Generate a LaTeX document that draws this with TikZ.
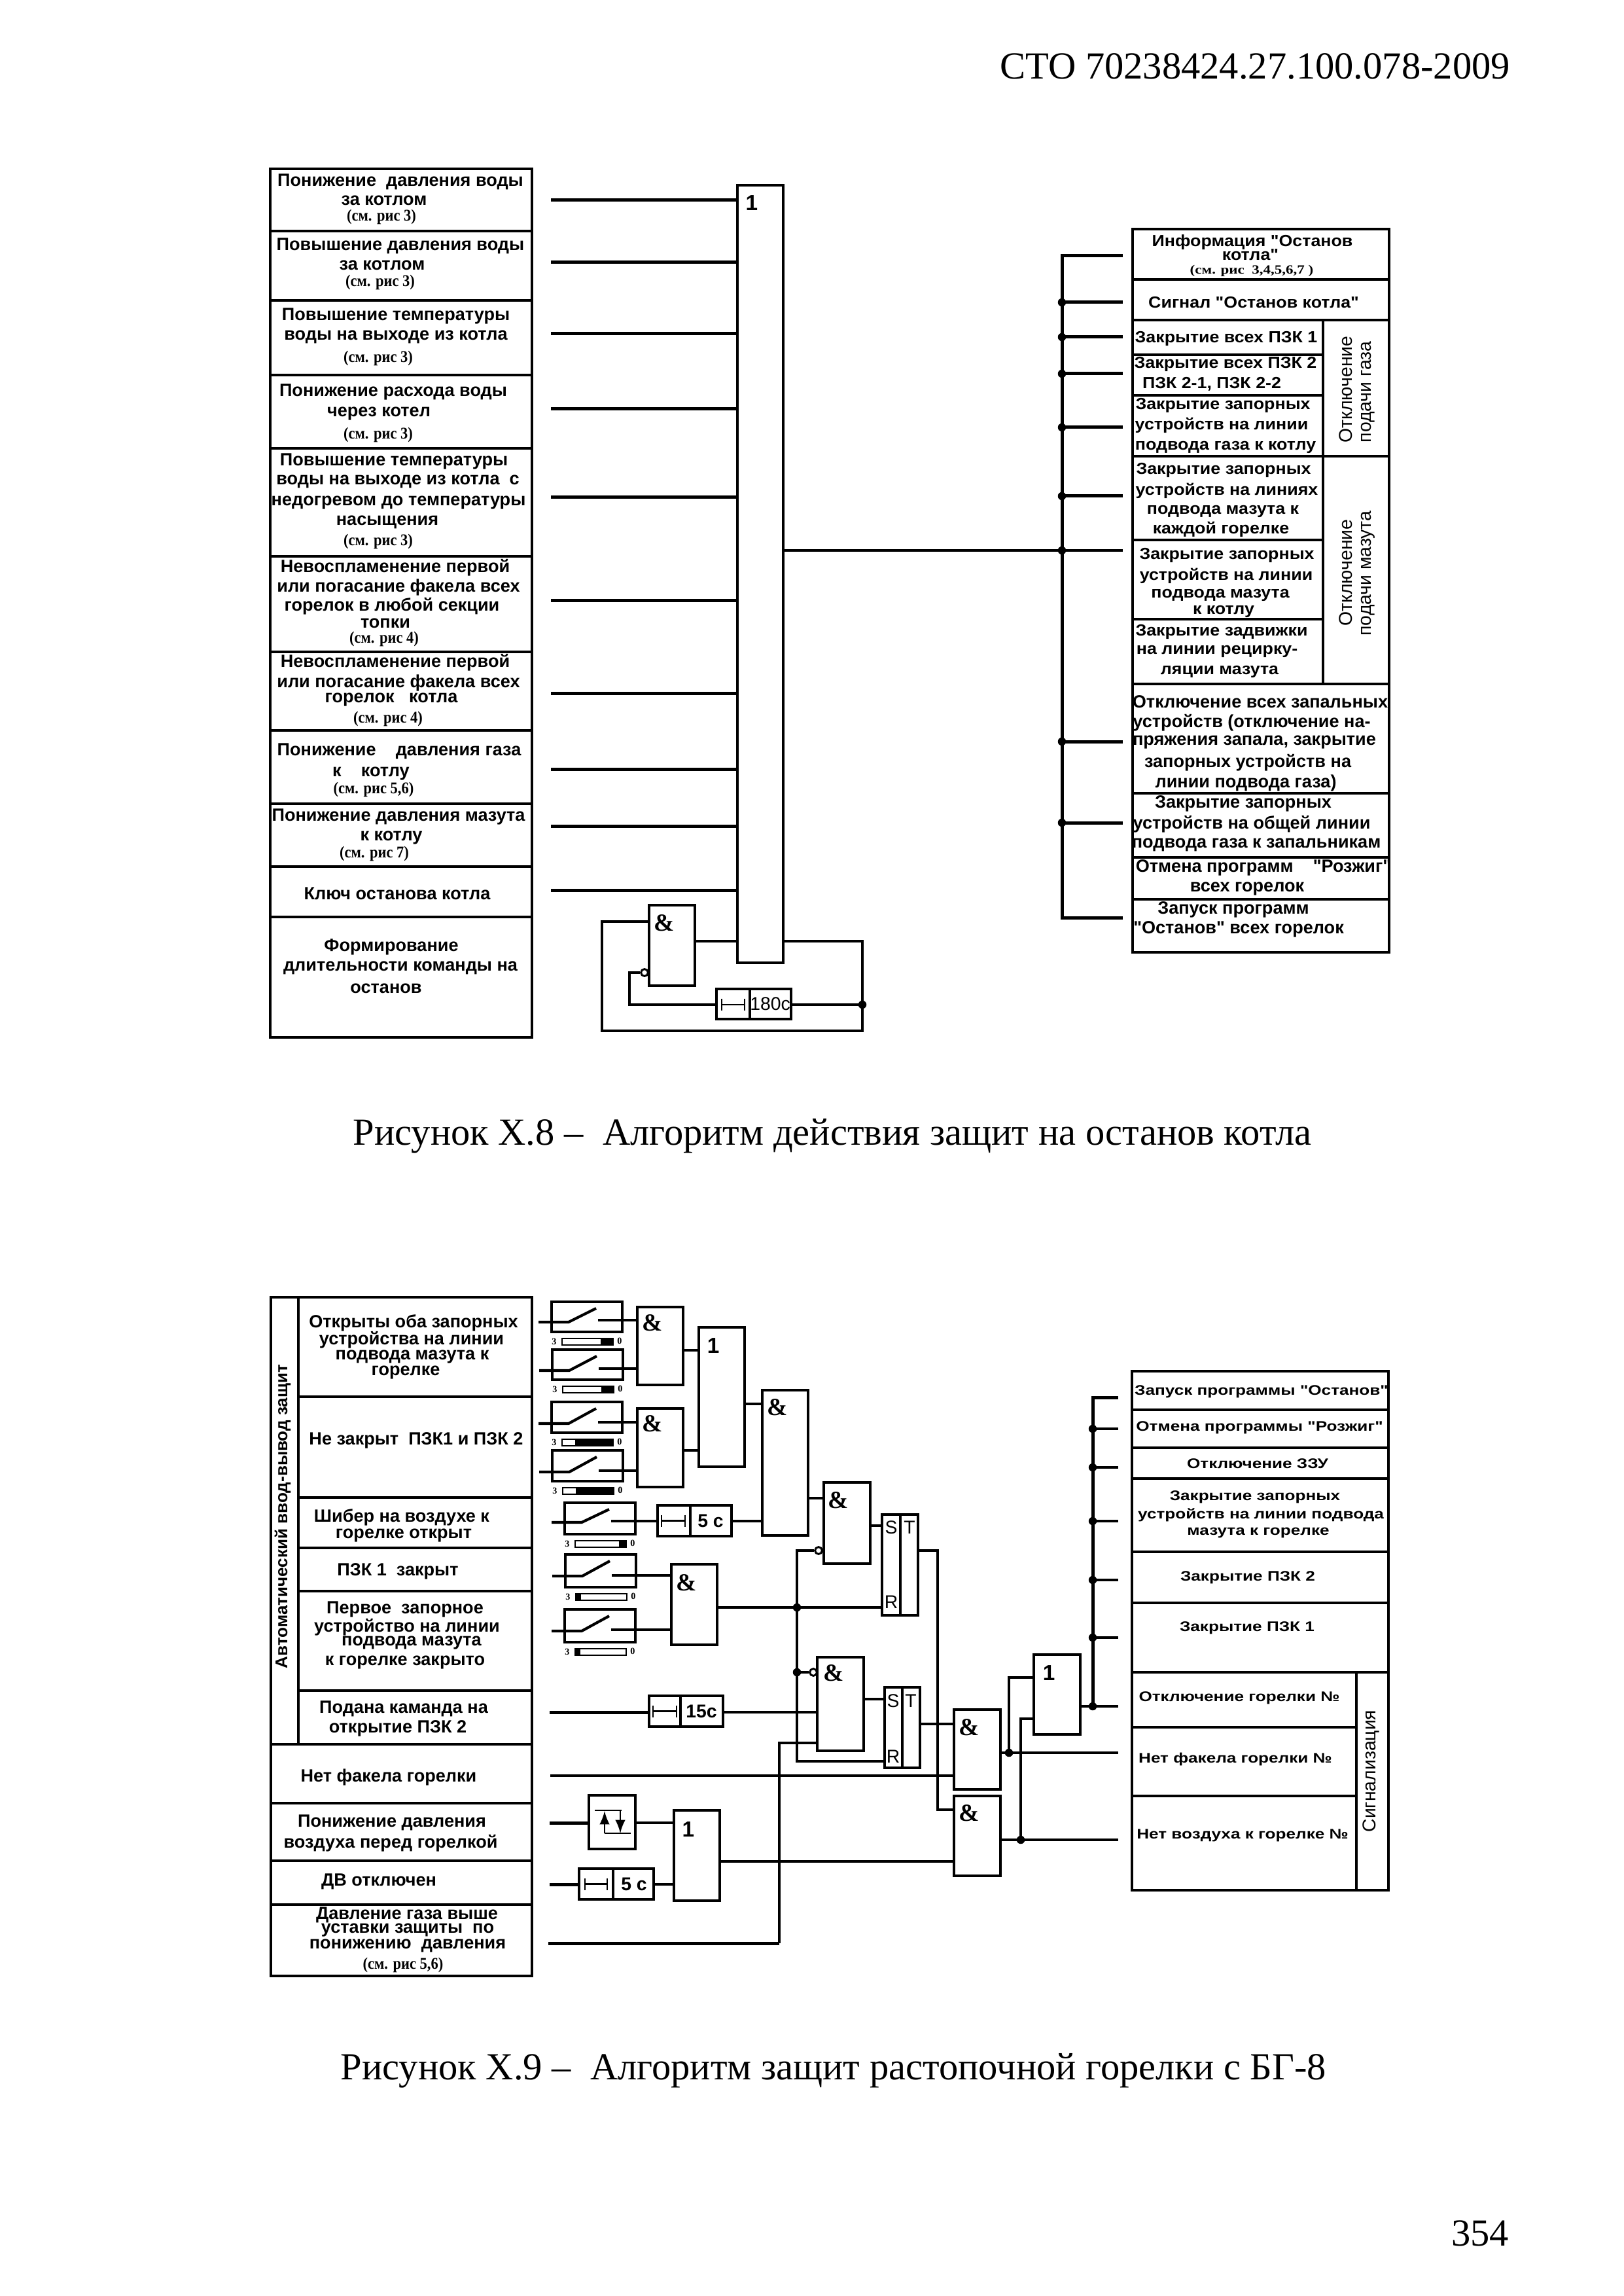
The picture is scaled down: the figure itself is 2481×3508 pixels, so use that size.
\documentclass[tikz,border=0pt]{standalone}
\usepackage{fontspec}
\setmainfont{Liberation Serif}
\newfontfamily\lblfont{Liberation Sans}
\newfontfamily\widefont[FakeStretch=1.09]{Liberation Sans}
\newfontfamily\xwidefont[FakeStretch=1.23]{Liberation Sans}
\newfontfamily\notefont[FakeStretch=0.9]{Liberation Serif}
\newfontfamily\wnotefont[FakeStretch=1.2]{Liberation Serif}
\usetikzlibrary{fit}
\newcommand{\andsym}{{\rmfamily\bfseries\fontsize{9}{9}\selectfont\&}}
\tikzset{
  wire/.style={line width=0.85pt},
  fatwire/.style={line width=1.2pt},
  gridline/.style={line width=0.8pt},
  gate/.style={draw,line width=1pt,inner sep=0pt,fill=white},
  swbox/.style={draw,line width=0.85pt,inner sep=0pt},
  bubble/.style={draw,circle,fill=white,line width=0.7pt,inner sep=0pt,minimum size=2.6pt},
  dot/.style={circle,fill=black,inner sep=0pt,minimum size=3pt},
  txt/.style={inner sep=0pt,font=\lblfont\bfseries\fontsize{6.5}{8}\selectfont},
  wtxt/.style={inner sep=0pt,font=\widefont\bfseries\fontsize{5.9}{7}\selectfont},
  xtxt/.style={inner sep=0pt,font=\xwidefont\bfseries\fontsize{5.1}{6}\selectfont},
  note/.style={inner sep=0pt,font=\notefont\bfseries\fontsize{6}{6}\selectfont},
  vtxt/.style={inner sep=0pt,rotate=90,font=\lblfont\fontsize{6.8}{8}\selectfont},
  gatelbl/.style={inner sep=0pt,font=\lblfont\bfseries\fontsize{8}{9}\selectfont},
  trlbl/.style={inner sep=0pt,font=\lblfont\fontsize{6.8}{8}\selectfont},
  tinylbl/.style={inner sep=0pt,font=\bfseries\fontsize{3.4}{4}\selectfont},
  pagetxt/.style={inner sep=0pt,font=\fontsize{14.05}{16}\selectfont}
}
\begin{document}
\begin{tikzpicture}[x=0.24pt,y=-0.24pt]
  \useasboundingbox (0,0) rectangle (2481,3508);
  %page texts
  \node[pagetxt] (header) at (1918,101) {СТО 70238424.27.100.078-2009};
  \node[pagetxt] (capA) at (1272,1736) {Рисунок Х.8 –\ \ Алгоритм действия защит на останов котла};
  \node[pagetxt] (capB) at (1274,3164) {Рисунок Х.9 –\ \ Алгоритм защит растопочной горелки с БГ-8};
  \node[pagetxt] (pageno) at (2262,3412) {354};

  %figure 8: left table
  \draw[gridline] (413,258) rectangle (813,1585);
  \foreach \y in {353,459,573,685,850,996,1116,1228,1324,1401}
      \draw[gridline] (413,\y) -- (813,\y);
  \foreach \x/\y/\tx [count=\i] in {
      612/278/Понижение~~давления воды, 587/306/за котлом,
      612/376/Повышение давления воды, 584/405/за котлом,
      605/483/Повышение температуры, 605/515/воды на выходе из котла,
      601/599/Понижение расхода воды, 579/632/через котел,
      602/705/Повышение температуры, 608/736/воды на выходе из котла~~с,
      609/768/недогревом до температуры, 592/798/насыщения,
      604/867/Невоспламенение первой, 609/897/или погасание факела всех,
      599/926/горелок в любой секции, 589/952/топки,
      604/1012/Невоспламенение первой, 609/1043/или погасание факела всех,
      598/1069/горелок~~~котла,
      610/1148/Понижение~~~~давления газа, 567/1182/к~~~~котлу,
      609/1248/Понижение давления мазута, 598/1280/к котлу,
      607/1365/Ключ останова котла,
      598/1447/Формирование, 612/1479/длительности команды на, 590/1510/останов}
      \node[txt] (lA\i) at (\x,\y) {\tx};
  \foreach \x/\y/\tx [count=\i] in {
      583/331/3, 581/431/3, 578/547/3, 578/664/3, 578/827/3,
      587/976/4, 593/1098/4, 571/1206/{5,6}, 572/1304/7}
      \node[note] (nA\i) at (\x,\y) {(см. рис \tx)};

  %figure 8: big OR gate and its inputs
  \node[gate,fit={(1127,283)(1197,1471)}] (orBig) {};
  \node[gatelbl] (orBigl) at (1149,310) {1};
  \foreach \y in {306,401,510,625,760,918,1059,1175,1262,1360}{
      \coordinate (in\y) at (842,\y);
      \draw[fatwire] (in\y) -- (in\y -| orBig.west);
  }

  %figure 8: feedback loop
  \node[gate,fit={(992,1383)(1062,1506)}] (andLoop) {};
  \node[gatelbl] (andLoopl) at (1015,1410) {\andsym};
  \node[gate,fit={(1095,1511)(1209,1557)}] (tmLoop) {};
  \draw[wire] (1146,1511) -- (1146,1557);
  \draw[line width=0.6pt] (1103,1526) -- (1103,1544) (1103,1535) -- (1138,1535) (1138,1526) -- (1138,1544);
  \node[trlbl] (tmLoopl) at (1177,1534) {180с};
  \node[bubble] (bubLoop) at (985,1486) {};
  \coordinate (loopA) at (1318,1438);
  \coordinate (loopB) at (1318,1575);
  \coordinate (loopC) at (920,1575);
  \coordinate (loopD) at (920,1408);
  \coordinate (loopE) at (962,1486);
  \coordinate (loopF) at (1318,1535);
  \draw[wire] (andLoop.east |- loopA) -- (orBig.west |- loopA);
  \draw[wire] (orBig.east |- loopA) -- (loopA) -- (loopB) -- (loopC) -- (loopD) -- (andLoop.west |- loopD);
  \draw[wire] (tmLoop.east |- loopF) -- (loopF);
  \draw[wire] (bubLoop.west) -- (loopE) -- (loopE |- loopF) -- (tmLoop.west |- loopF);
  \node[dot] (dotLoop) at (loopF) {};

  %figure 8: output bus
  \coordinate (busAt) at (1623,391);
  \coordinate (busAb) at (1623,1402);
  \coordinate (outAt) at (1716,391);
  \coordinate (outAb) at (1716,1402);
  \draw[fatwire] (outAt) -- (busAt) -- (busAb) -- (outAb);
  \foreach \y in {462,515,571,653,758,1133,1257}{
      \coordinate (busA\y) at (1623,\y);
      \coordinate (outA\y) at (1716,\y);
      \draw[fatwire] (busA\y) -- (outA\y);
      \node[dot] (dotA\y) at (busA\y) {};
  }
  \coordinate (busAm) at (1623,841);
  \coordinate (outAm) at (1716,841);
  \draw[wire] (orBig.east |- busAm) -- (outAm);
  \node[dot] (dotAm) at (busAm) {};

  %figure 8: right table
  \draw[gridline] (1731,350) rectangle (2123,1455);
  \foreach \y in {427,489,697,1045,1212,1310,1374}
      \draw[gridline] (1731,\y) -- (2123,\y);
  \foreach \y in {542,604,825,946}
      \draw[gridline] (1731,\y) -- (2022,\y);
  \draw[gridline] (2022,489) -- (2022,1045);
  \foreach \x/\y/\tx [count=\i] in {
      1914/370/Информация "Останов, 1911/389/котла",
      1916/462/Сигнал "Останов котла",
      1874/517/Закрытие всех ПЗК 1, 1873/556/Закрытие всех ПЗК 2,
      1852/587/{ПЗК 2-1, ПЗК 2-2},
      1869/619/Закрытие запорных, 1867/650/устройств на линии,
      1873/683/подвода газа к котлу,
      1870/718/Закрытие запорных, 1875/750/устройств на линиях,
      1869/781/подвода мазута к, 1866/809/каждой горелке,
      1875/848/Закрытие запорных, 1874/880/устройств на линии,
      1865/909/подвода мазута, 1870/934/к котлу,
      1867/965/Закрытие задвижки, 1860/995/на линии рецирку-,
      1864/1026/ляции мазута}
      \node[wtxt] (rA\i) at (\x,\y) {\tx};
  \node[inner sep=0pt,font=\wnotefont\bfseries\fontsize{4.6}{5}\selectfont] (nAr) at (1913,414) {(см. рис~~3,4,5,6,7 )};
  \foreach \x/\y/\tx [count=\i] in {
      1926/1072/Отключение всех запальных, 1913/1104/устройств (отключение на-,
      1917/1134/{пряжения запала, закрытие}, 1907/1165/запорных устройств на,
      1904/1196/линии подвода газа),
      1900/1228/Закрытие запорных, 1913/1259/устройств на общей линии,
      1920/1291/подвода газа к запальникам,
      1931/1326/Отмена программ~~~~"Розжиг", 1906/1358/всех горелок,
      1885/1390/Запуск программ, 1893/1420/"Останов" всех горелок}
      \node[txt] (rB\i) at (\x,\y) {\tx};
  \foreach \x/\y/\tx [count=\i] in {
      2057/595/Отключение, 2091/599/подачи газа,
      2057/875/Отключение, 2091/876/подачи мазута}
      \node[vtxt] (vA\i) at (\x,\y) {\tx};

  %figure 9: left table
  \draw[gridline] (414,1982) rectangle (813,3019);
  \draw[gridline] (456,1982) -- (456,2665);
  \foreach \y in {2134,2288,2365,2431,2583}
      \draw[gridline] (456,\y) -- (813,\y);
  \foreach \y in {2665,2755,2843,2910}
      \draw[gridline] (414,\y) -- (813,\y);
  \node[txt,rotate=90,font=\lblfont\bfseries\fontsize{6.25}{8}\selectfont] (vB) at (432,2317) {Автоматический ввод-вывод защит};
  \foreach \x/\y/\tx [count=\i] in {
      632/2021/Открыты оба запорных, 629/2047/устройства на линии,
      630/2073/подвода мазута к, 620/2097/горелке,
      636/2201/Не закрыт~~ПЗК1 и ПЗК 2,
      614/2318/Шибер на воздухе к, 617/2346/горелке открыт,
      608/2401/ПЗК 1~~закрыт,
      619/2459/Первое~~запорное, 622/2486/устройство на линии,
      629/2510/подвода мазута, 619/2540/к горелке закрыто,
      617/2611/Подана каманда на, 608/2641/открытие ПЗК 2,
      594/2715/Нет факела горелки,
      599/2785/Понижение давления, 597/2816/воздуха перед горелкой,
      579/2875/ДВ отключен,
      622/2926/Давление газа выше, 623/2949/уставки защиты~~по,
      623/2973/понижению~~давления}
      \node[txt] (lB\i) at (\x,\y) {\tx};
  \node[note] (nB) at (616,3002) {(см. рис 5,6)};

  %figure 9: gates
  \foreach \nm/\xa/\ya/\xb/\yb/\lx/\ly/\tx in {
      andA/974/1997/1044/2116/997/2021/\andsym,
      andB/974/2152/1044/2272/997/2175/\andsym,
      orA/1068/2028/1138/2241/1090/2056/1,
      andC/1165/2124/1235/2346/1188/2150/\andsym,
      andD/1026/2390/1096/2513/1049/2418/\andsym,
      andE/1259/2265/1330/2389/1281/2292/\andsym,
      andF/1249/2532/1320/2675/1274/2556/\andsym,
      andG/1458/2612/1529/2734/1481/2639/\andsym,
      andH/1458/2744/1529/2866/1481/2770/\andsym,
      orB/1030/2766/1100/2904/1052/2795/1,
      orC/1580/2528/1651/2650/1603/2556/1}{
      \node[gate,fit={(\xa,\ya)(\xb,\yb)}] (\nm) {};
      \node[gatelbl] (\nm l) at (\lx,\ly) {\tx};
  }

  %figure 9: timers
  \foreach \nm/\xa/\ya/\xb/\yb/\xd/\xs/\xe/\lx/\tx in {
      tmA/1005/2300/1118/2347/1055/1011/1047/1086/5 с,
      tmB/992/2591/1105/2638/1040/998/1034/1072/15с,
      tmC/885/2855/999/2902/937/894/928/969/5 с}{
      \node[gate,fit={(\xa,\ya)(\xb,\yb)}] (\nm) {};
      \draw[wire] (\nm.north -| \xd,0) -- (\nm.south -| \xd,0);
      \draw[line width=0.6pt] (\nm.center -| \xs,0) ++(0,-9) -- ++(0,18) ++(0,-9) -- (\nm.center -| \xe,0) ++(0,-9) -- ++(0,18);
      \node[trlbl,font=\lblfont\bfseries\fontsize{6.8}{8}\selectfont] (\nm l) at (\nm.center -| \lx,0) {\tx};
  }

  %figure 9: triggers
  \foreach \nm/\xa/\ya/\xb/\yb/\xd/\xs/\xt/\ys/\yr in {
      trA/1348/2314/1403/2468/1376/1362/1390/2334/2448,
      trB/1352/2578/1406/2701/1379/1365/1392/2599/2684}{
      \node[gate,fit={(\xa,\ya)(\xb,\yb)}] (\nm) {};
      \draw[gate] (\xd,\ya) -- (\xd,\yb);
      \node[trlbl] (\nm s) at (\xs,\ys) {S};
      \node[trlbl] (\nm t) at (\xt,\ys) {T};
      \node[trlbl] (\nm r) at (\xs,\yr) {R};
  }

  %figure 9: relay contacts
  \foreach \nm/\xa/\ya/\h/\yi/\yo/\ba/\bb/\tg in {
      swA/843/1989/46/2020/2017/59/78/andA,
      swB/844/2062/46/2094/2091/59/78/andA,
      swC/843/2142/47/2175/2173/20/78/andB,
      swD/844/2216/47/2249/2247/20/78/andB,
      swE/863/2296/48/2326/2324/67/77/tmA,
      swF/864/2375/50/2408/2407/0/8/andD,
      swG/863/2459/50/2492/2490/0/8/andD}{
      \node[swbox,fit={(\xa,\ya)(\xa+108,\ya+\h)}] (\nm) {};
      \coordinate (\nm i) at (\xa-20,\yi);
      \coordinate (\nm h) at (\xa+26,\yi);
      \coordinate (\nm b) at (\xa+68,\ya+10);
      \coordinate (\nm o) at (\xa+71,\yo);
      \draw[wire,line width=1pt] (\nm i) -- (\nm h) -- (\nm b);
      \draw[wire,line width=1pt] (\nm o) -- (\nm o -| \tg.west);
      \draw[line width=0.6pt] (\xa+16,\ya+\h+10) rectangle (\xa+94,\ya+\h+20);
      \fill (\xa+16+\ba,\ya+\h+10) rectangle (\xa+16+\bb,\ya+\h+20);
      \node[tinylbl] (\nm z) at (\xa+4,\ya+\h+15) {3};
      \node[tinylbl] (\nm n) at (\xa+104,\ya+\h+14) {0};
  }

  %figure 9: gate to gate wires
  \foreach \a/\b/\y in {
      andA/orA/2063, andB/orA/2216, orA/andC/2145, tmA/andC/2324,
      andC/andE/2289, andE/trA/2331, andD/trA/2456,
      tmB/andF/2616, orB/andH/2844, andF/trB/2596, trB/andG/2634,
      tmC/orB/2879}
      \draw[wire] (\a.east |- 0,\y) -- (\b.west |- 0,\y);

  %figure 9: reset line with inverted inputs
  \node[bubble] (bubA) at (1251,2369) {};
  \node[bubble] (bubB) at (1243,2555) {};
  \coordinate (jA) at (1218,2369);
  \coordinate (jB) at (1218,2691);
  \coordinate (jC) at (1218,2456);
  \coordinate (jD) at (1218,2555);
  \draw[wire] (bubA.west) -- (jA) -- (jB) -- (jB -| trB.west);
  \draw[wire] (jD) -- (bubB.west);
  \node[dot] (dotC) at (jC) {};
  \node[dot] (dotD) at (jD) {};

  %figure 9: free inputs
  \coordinate (inB) at (840,2616);
  \coordinate (inC) at (841,2713);
  \coordinate (inD) at (840,2785);
  \coordinate (inE) at (840,2879);
  \coordinate (inF) at (838,2969);
  \coordinate (inFa) at (1191,2969);
  \coordinate (inFb) at (1191,2663);
  \draw[fatwire] (inB) -- (tmB.west |- inB);
  \draw[wire] (inC) -- (inC -| andG.west);
  \draw[fatwire] (inE) -- (tmC.west |- inE);
  \draw[fatwire] (inF) -- (inFa);
  \draw[wire] (inFa) -- (inFb) -- (inFb -| andF.west);

  %figure 9: hysteresis block
  \node[gate,fit={(900,2743)(971,2825)}] (hyst) {};
  \draw[fatwire] (inD) -- (hyst.west |- inD);
  \draw[wire] (hyst.east |- inD) -- (orB.west |- inD);
  \draw[line width=0.7pt,-latex] (924,2801) -- (924,2767);
  \draw[line width=0.7pt,-latex] (948,2766) -- (948,2801);
  \draw[line width=0.7pt] (909,2766) -- (950,2766) (924,2801) -- (964,2801);

  %figure 9: trigger output to lower gate
  \coordinate (trOa) at (1433,2369);
  \coordinate (trOb) at (1433,2765);
  \draw[wire] (trA.east |- trOa) -- (trOa) -- (trOb) -- (trOb -| andH.west);

  %figure 9: signals to the right table
  \coordinate (outG) at (1709,2678);
  \coordinate (outH) at (1709,2811);
  \coordinate (jG) at (1542,2678);
  \coordinate (jH) at (1560,2811);
  \coordinate (jGa) at (1542,2563);
  \coordinate (jHa) at (1560,2626);
  \draw[wire] (andG.east |- outG) -- (outG);
  \draw[wire] (andH.east |- outH) -- (outH);
  \draw[wire] (jG) -- (jGa) -- (jGa -| orC.west);
  \draw[wire] (jH) -- (jHa) -- (jHa -| orC.west);
  \node[dot] (dotG) at (jG) {};
  \node[dot] (dotH) at (jH) {};

  %figure 9: output bus
  \coordinate (busBt) at (1670,2135);
  \coordinate (busBb) at (1670,2607);
  \coordinate (outBt) at (1709,2135);
  \coordinate (outBb) at (1709,2607);
  \draw[wire] (orC.east |- outBb) -- (outBb);
  \draw[fatwire] (outBt) -- (busBt) -- (busBb);
  \node[dot] (dotBb) at (busBb) {};
  \foreach \y in {2183,2242,2324,2414,2502}{
      \coordinate (busB\y) at (1670,\y);
      \coordinate (outB\y) at (1709,\y);
      \draw[wire] (busB\y) -- (outB\y);
      \node[dot] (dotB\y) at (busB\y) {};
  }

  %figure 9: right table
  \draw[gridline] (1730,2095) rectangle (2122,2888);
  \foreach \y in {2154,2212,2259,2371,2449,2555}
      \draw[gridline] (1730,\y) -- (2122,\y);
  \foreach \y in {2639,2744}
      \draw[gridline] (1730,\y) -- (2073,\y);
  \draw[gridline] (2073,2555) -- (2073,2888);
  \foreach \x/\y/\tx [count=\i] in {
      1928/2126/Запуск программы "Останов", 1925/2181/Отмена программы "Розжиг",
      1922/2236/Отключение ЗЗУ,
      1918/2287/Закрытие запорных, 1927/2315/устройств на линии подвода,
      1923/2342/мазута к горелке,
      1907/2410/Закрытие ПЗК 2, 1906/2487/Закрытие ПЗК 1,
      1894/2594/Отключение горелки №, 1888/2688/Нет факела горелки №,
      1899/2804/Нет воздуха к горелке №}
      \node[xtxt] (rC\i) at (\x,\y) {\tx};
  \node[vtxt] (vC) at (2095,2706) {Сигнализация};
\end{tikzpicture}
\end{document}
